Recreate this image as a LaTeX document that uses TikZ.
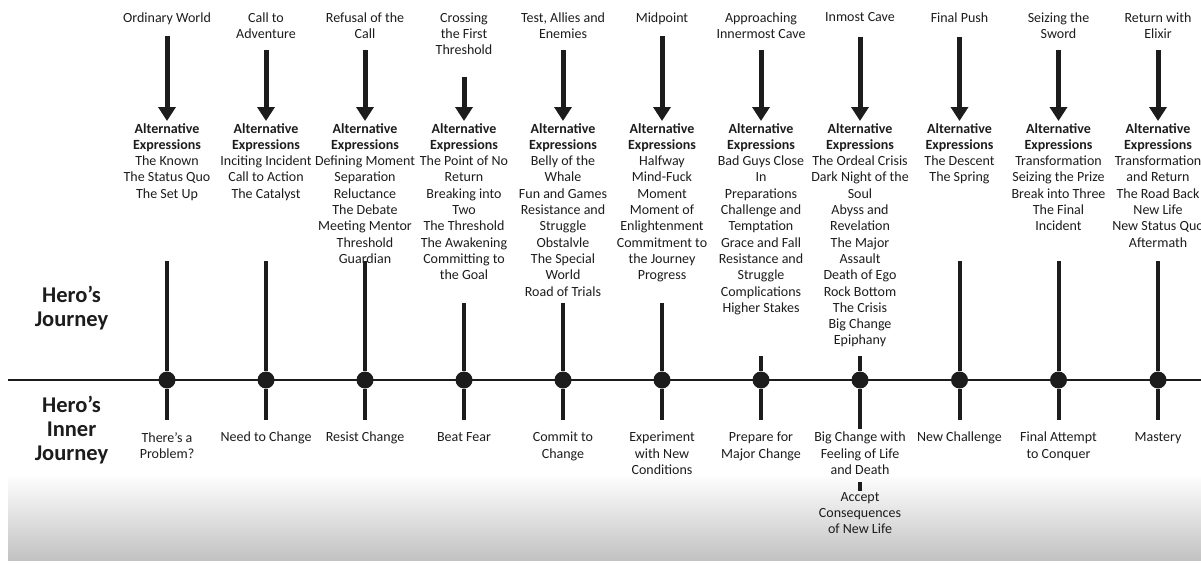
\documentclass[tikz,border=0pt]{standalone}
\usepackage{fontspec}
\setmainfont{Carlito}
\usetikzlibrary{arrows.meta}
\definecolor{ink}{HTML}{1C1C1C}
\definecolor{shadebot}{HTML}{C2C2C2}
\newcommand\fsz{\fontsize{14}{16.3}\selectfont}
\newcommand\fbig{\fontsize{22.5}{24}\selectfont\bfseries}
\begin{document}
\begin{tikzpicture}[x=1pt,y=-1pt,
  txt/.style={align=center,inner sep=0pt,anchor=north,font=\fsz,text=ink},
  big/.style={align=center,inner sep=0pt,anchor=north,font=\fbig,text=ink},
  arr/.style={draw=ink,line width=5pt,-{Triangle[width=17pt,length=14pt]},shorten >=2pt},
  bar/.style={draw=ink,line width=4pt},
  hline/.style={draw=ink,line width=2.6pt},
  dot/.style={circle,fill=ink,inner sep=0pt,minimum size=17pt}]
\useasboundingbox (0,0) rectangle (1201,563);
\shade[top color=white,bottom color=shadebot] (8,474) rectangle (1201,560);

% titles
\node[txt] (t1)  at (167,12.5)  {Ordinary World};
\node[txt] (t2)  at (266,12.5)  {Call to\\Adventure};
\node[txt] (t3)  at (365,12.5)  {Refusal of the\\Call};
\node[txt] (t4)  at (464,12.5)  {Crossing\\the First\\Threshold};
\node[txt] (t5)  at (563,12.5)  {Test, Allies and\\Enemies};
\node[txt] (t6)  at (662,12.5)  {Midpoint};
\node[txt] (t7)  at (761,12.5)  {Approaching\\Innermost Cave};
\node[txt] (t8)  at (860,12.5)  {Inmost Cave};
\node[txt] (t9)  at (959.5,12.5)  {Final Push};
\node[txt] (t10) at (1058.5,12.5) {Seizing the\\Sword};
\node[txt] (t11) at (1158,12.5) {Return with\\Elixir};

% alternative expressions
\node[txt] (a1)  at (167,123) {\textbf{Alternative}\\\textbf{Expressions}\\The Known\\The Status Quo\\The Set Up};
\node[txt] (a2)  at (266,123) {\textbf{Alternative}\\\textbf{Expressions}\\Inciting Incident\\Call to Action\\The Catalyst};
\node[txt] (a3)  at (365,123) {\textbf{Alternative}\\\textbf{Expressions}\\Defining Moment\\Separation\\Reluctance\\The Debate\\Meeting Mentor\\Threshold\\Guardian};
\node[txt] (a4)  at (464,123) {\textbf{Alternative}\\\textbf{Expressions}\\The Point of No\\Return\\Breaking into\\Two\\The Threshold\\The Awakening\\Committing to\\the Goal};
\node[txt] (a5)  at (563,123) {\textbf{Alternative}\\\textbf{Expressions}\\Belly of the\\Whale\\Fun and Games\\Resistance and\\Struggle\\Obstalvle\\The Special\\World\\Road of Trials};
\node[txt] (a6)  at (662,123) {\textbf{Alternative}\\\textbf{Expressions}\\Halfway\\Mind-Fuck\\Moment\\Moment of\\Enlightenment\\Commitment to\\the Journey\\Progress};
\node[txt] (a7)  at (761,123) {\textbf{Alternative}\\\textbf{Expressions}\\Bad Guys Close\\In\\Preparations\\Challenge and\\Temptation\\Grace and Fall\\Resistance and\\Struggle\\Complications\\Higher Stakes};
\node[txt] (a8)  at (860,123) {\textbf{Alternative}\\\textbf{Expressions}\\The Ordeal Crisis\\Dark Night of the\\Soul\\Abyss and\\Revelation\\The Major\\Assault\\Death of Ego\\Rock Bottom\\The Crisis\\Big Change\\Epiphany};
\node[txt] (a9)  at (959.5,123) {\textbf{Alternative}\\\textbf{Expressions}\\The Descent\\The Spring};
\node[txt] (a10) at (1058.5,123) {\textbf{Alternative}\\\textbf{Expressions}\\Transformation\\Seizing the Prize\\Break into Three\\The Final\\Incident};
\node[txt] (a11) at (1158,123) {\textbf{Alternative}\\\textbf{Expressions}\\Transformation\\and Return\\The Road Back\\New Life\\New Status Quo\\Aftermath};

% arrows
\draw[arr,shorten <=11.5pt] (t1.south) -- (a1.north);
\draw[arr,shorten <=11.2pt] (t2.south) -- (a2.north);
\draw[arr,shorten <=11.2pt] (t3.south) -- (a3.north);
\draw[arr,shorten <=22pt]   (t4.south) -- (a4.north);
\draw[arr,shorten <=11.2pt] (t5.south) -- (a5.north);
\draw[arr,shorten <=11.5pt] (t6.south) -- (a6.north);
\draw[arr,shorten <=11.2pt] (t7.south) -- (a7.north);
\draw[arr,shorten <=14.5pt] (t8.south) -- (a8.north);
\draw[arr,shorten <=14.5pt] (t9.south) -- (a9.north);
\draw[arr,shorten <=11.2pt] (t10.south) -- (a10.north);
\draw[arr,shorten <=11.2pt] (t11.south) -- (a11.north);

% side labels
\node[big] (hj) at (71.5,286) {Hero’s\\Journey};
\node[big] (hij) at (71.5,396) {Hero’s\\Inner\\Journey};

% lower labels
\node[txt] (l1)  at (167,432) {There’s a\\Problem?};
\node[txt] (l2)  at (266,432) {Need to Change};
\node[txt] (l3)  at (365,432) {Resist Change};
\node[txt] (l4)  at (464,432) {Beat Fear};
\node[txt] (l5)  at (563,432) {Commit to\\Change};
\node[txt] (l6)  at (662,432) {Experiment\\with New\\Conditions};
\node[txt] (l7)  at (761,432) {Prepare for\\Major Change};
\node[txt] (l8)  at (860,432) {Big Change with\\Feeling of Life\\and Death};
\node[txt] (l9)  at (959.5,432) {New Challenge};
\node[txt] (l10) at (1058.5,432) {Final Attempt\\to Conquer};
\node[txt] (l11) at (1158,432) {Mastery};
\node[txt] (acc) at (860,492) {Accept\\Consequences\\of New Life};

% timeline
\coordinate (L) at (8,380);
\coordinate (R) at (1201,380);
\draw[hline] (L) -- (R);
\foreach \i/\x/\top in {1/167/261,2/266/261,3/365/261,4/464/303,5/563/303,6/662/303,7/761/356,8/860/356,9/959.5/261,10/1058.5/261,11/1158/261}{
  \node[dot] (d\i) at (\x,380) {};
  \coordinate (u\i) at (\x,\top);
  \draw[bar] (u\i) -- (d\i);
}
\foreach \i in {1,2,3,4,5,6,7,9,10,11}{
  \draw[bar,shorten >=12pt] (d\i) -- (l\i.north);
}
\draw[bar,shorten >=3pt] (d8) -- (l8.north);
\draw[bar,shorten <=7.5pt,shorten >=1pt] (l8.south) -- (acc.north);
\end{tikzpicture}
\end{document}
